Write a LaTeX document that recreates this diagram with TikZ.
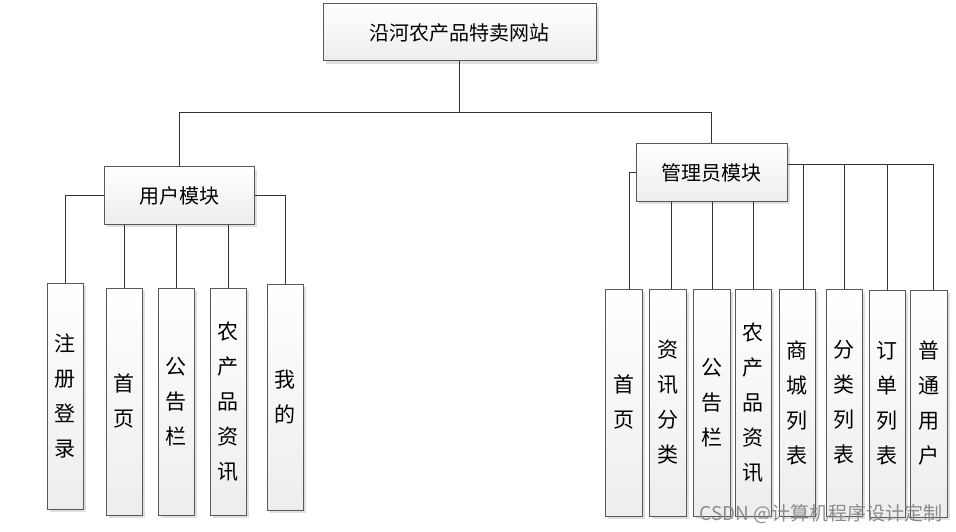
\documentclass[tikz,border=0pt]{standalone}
\usepackage{fontspec}
\newfontfamily\cjk{Noto Sans CJK SC}
\usetikzlibrary{shadows}

\tikzset{
  box/.style={draw=black!65, line width=1pt, top color=white, bottom color=gray!14,
    drop shadow={shadow xshift=3pt, shadow yshift=-3pt, fill=black!25, opacity=0.5},
    inner sep=0pt, font=\cjk\fontsize{20}{24}\selectfont},
  headbox/.style={box, minimum height=57pt},
  tallbox/.style={box, minimum width=36pt, minimum height=227pt, align=center,
    font=\cjk\fontsize{21}{35}\selectfont},
  link/.style={draw=black!80, line width=1pt}
}

\begin{document}
\begin{tikzpicture}[x=1pt,y=-1pt]
  \useasboundingbox (0,0) rectangle (956,532);

  % top levels
  \node[headbox, minimum width=273pt] (site) at (459.5,32.5) {沿河农产品特卖网站};
  \node[headbox, minimum width=150pt] (user) at (179,195.5) {用户模块};
  \node[headbox, minimum width=151pt] (admin) at (711.5,172.5) {管理员模块};

  % user side
  \node[tallbox, minimum height=226pt] (zcdl) at (65,396) {注\\册\\登\\录};
  \node[tallbox] (sy1) at (124,401.5) {首\\页};
  \node[tallbox] (ggl1) at (176,401.5) {公\\告\\栏};
  \node[tallbox] (nczx1) at (228,401.5) {农\\产\\品\\资\\讯};
  \node[tallbox, minimum height=226pt] (wd) at (285,397) {我\\的};

  % admin side
  \node[tallbox, minimum width=37pt] (sy2) at (623.5,402.5) {首\\页};
  \node[tallbox, minimum width=37pt] (zxfl) at (667.5,402.5) {资\\讯\\分\\类};
  \node[tallbox, minimum width=37pt] (ggl2) at (711.5,402.5) {公\\告\\栏};
  \node[tallbox] (nczx2) at (753,402.5) {农\\产\\品\\资\\讯};
  \node[tallbox] (sclb) at (797,402.5) {商\\城\\列\\表};
  \node[tallbox] (fllb) at (844,402.5) {分\\类\\列\\表};
  \node[tallbox] (ddlb) at (887,403.5) {订\\单\\列\\表};
  \node[tallbox, minimum width=37pt] (ptyh) at (928.5,403.5) {普\\通\\用\\户};

  % connectors
  \draw[link] (site.south) -- ++(0,51.5) -| (user.north);
  \draw[link] (site.south) -- ++(0,51.5) -| (admin.north);

  \draw[link] (user.west) -| (zcdl.north);
  \draw[link] (user.east) -| (wd.north);
  \draw[link] (user.south -| sy1) -- (sy1.north);
  \draw[link] (user.south -| ggl1) -- (ggl1.north);
  \draw[link] (user.south -| nczx1) -- (nczx1.north);

  \draw[link] (admin.west) -| ([xshift=6pt]sy2.north);
  \draw[link] ([xshift=4pt]admin.south -| zxfl) -- ([xshift=4pt]zxfl.north);
  \draw[link] ([xshift=1pt]admin.south -| ggl2) -- ([xshift=1pt]ggl2.north);
  \draw[link] (admin.south -| nczx2) -- (nczx2.north);
  \draw[link] ([yshift=7.5pt]admin.east) -| ([xshift=6pt]sclb.north);
  \draw[link] ([yshift=7.5pt]admin.east) -| (fllb.north);
  \draw[link] ([yshift=7.5pt]admin.east) -| (ddlb.north);
  \draw[link] ([yshift=7.5pt]admin.east) -| ([xshift=4.5pt]ptyh.north);

  % watermark
  \node[text=black!45, font=\cjk\fontsize{19}{22}\selectfont, anchor=east] (mark) at (946,514) {CSDN @计算机程序设计定制};
\end{tikzpicture}
\end{document}
